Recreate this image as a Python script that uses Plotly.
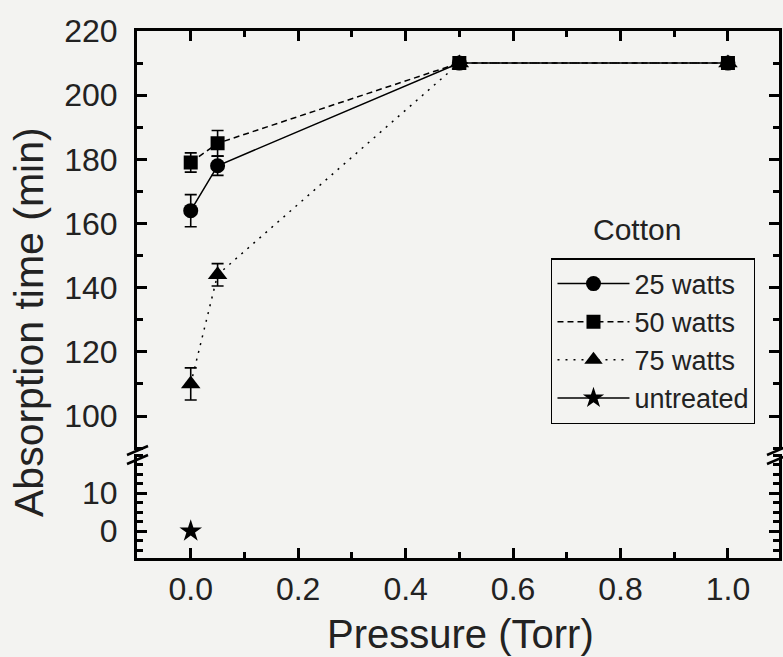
import plotly.graph_objects as go

# ---- data ----
pressure = [0.0, 0.05, 0.5, 1.0]
w25 = [164, 178, 210, 210]
w25_err = [5, 3, 0, 0]
w50 = [179, 185, 210, 210]
w50_err = [3, 4, 0, 0]
w75 = [110, 144, 210, 210]
w75_err = [5, 3.5, 0, 0]
untreated_x = [0.0]
untreated_y = [0]

x_ticks = [0.0, 0.2, 0.4, 0.6, 0.8, 1.0]
x_ticklabels = ["0.0", "0.2", "0.4", "0.6", "0.8", "1.0"]
upper_ticks = [100, 120, 140, 160, 180, 200, 220]
lower_ticks = [0, 10]

FONT = "Liberation Sans, Arial, sans-serif"
BG = "#f3f3f1"

fig = go.Figure()

def err(vals):
    return dict(type="data", array=vals, visible=True, color="black", thickness=1.6, width=6)

fig.add_trace(go.Scatter(x=pressure, y=w50, error_y=err(w50_err), mode="lines+markers",
                         name="50 watts", legendrank=2, xaxis="x2", yaxis="y2",
                         line=dict(color="black", width=1.5, dash="6px,4px"),
                         marker=dict(symbol="square", size=14, color="black")))
fig.add_trace(go.Scatter(x=pressure, y=w75, error_y=err(w75_err), mode="lines+markers",
                         name="75 watts", legendrank=3, xaxis="x2", yaxis="y2",
                         line=dict(color="black", width=1.5, dash="2px,6px"),
                         marker=dict(symbol="triangle-up", size=17, color="black")))
fig.add_trace(go.Scatter(x=pressure, y=w25, error_y=err(w25_err), mode="lines+markers",
                         name="25 watts", legendrank=1, xaxis="x2", yaxis="y2",
                         line=dict(color="black", width=1.5),
                         marker=dict(symbol="circle", size=15, color="black")))
fig.add_trace(go.Scatter(x=untreated_x, y=untreated_y, mode="lines+markers",
                         name="untreated", legendrank=4, xaxis="x", yaxis="y",
                         line=dict(color="black", width=1.5),
                         marker=dict(symbol="star", size=17, color="black")))

axis_common = dict(showline=True, linecolor="black", linewidth=3, ticks="inside",
                   tickcolor="black", tickwidth=3, ticklen=10, showgrid=False, zeroline=False,
                   automargin=False,
                   tickfont=dict(family=FONT, size=32, color="#222"))

L, R, T, B = 137, 4, 31, 99
W, H = 783, 657
pw, ph = W - L - R, H - T - B

fig.update_layout(
    width=W, height=H,
    margin=dict(l=L, r=R, t=T, b=B, autoexpand=False),
    paper_bgcolor=BG, plot_bgcolor=BG,
    font=dict(family=FONT, color="#222"),
    showlegend=True,
    legend=dict(x=0.645, y=0.569, xanchor="left", yanchor="top",
                bgcolor=BG, bordercolor="black", borderwidth=1.4,
                font=dict(family=FONT, size=27, color="#222"),
                itemwidth=72, tracegroupgap=0),
    xaxis=dict(**axis_common, range=[-0.1, 1.095], anchor="y", domain=[0, 1],
               tickvals=x_ticks, ticktext=x_ticklabels, ticklabelstandoff=1,
               minor=dict(dtick=0.1, ticks="inside", ticklen=6, tickwidth=3, tickcolor="black")),
    xaxis2=dict(**axis_common, range=[-0.1, 1.095], anchor="y2", side="top", matches="x",
                showticklabels=False, tickvals=x_ticks,
                minor=dict(dtick=0.1, ticks="inside", ticklen=6, tickwidth=3, tickcolor="black")),
    yaxis=dict(**axis_common, domain=[0, 0.198], range=[-7.1, 20.4], tickvals=lower_ticks,
               mirror="ticks", ticklabelstandoff=10,
               minor=dict(tick0=0, dtick=2.5, ticks="inside", ticklen=6, tickwidth=3, tickcolor="black")),
    yaxis2=dict(**axis_common, domain=[0.204, 1], range=[89.25, 220], tickvals=upper_ticks,
                mirror="ticks", ticklabelstandoff=10,
                minor=dict(tick0=0, dtick=10, ticks="inside", ticklen=6, tickwidth=3, tickcolor="black")),
)

def px(xp):
    return (xp - L) / pw

def py(yp):
    return (H - B - yp) / ph

# axis break marks
for xc in (L, W - R - 2):
    for dy in (0, 9):
        fig.add_shape(type="line", xref="paper", yref="paper",
                      x0=px(xc - 10), y0=py(455 + dy), x1=px(xc + 11), y1=py(446 + dy),
                      line=dict(color="black", width=2.5))

fig.add_annotation(text="Cotton", xref="paper", yref="paper", x=px(637), y=py(229),
                   xanchor="center", yanchor="middle",
                   showarrow=False, font=dict(family=FONT, size=30, color="#222"))
fig.add_annotation(text="Absorption time (min)", xref="paper", yref="paper",
                   x=px(29), y=py(322), xanchor="center", yanchor="middle",
                   textangle=-90, showarrow=False,
                   font=dict(family=FONT, size=41, color="#222"))
fig.add_annotation(text="Pressure (Torr)", xref="paper", yref="paper",
                   x=px(460), y=py(634), xanchor="center", yanchor="middle",
                   showarrow=False,
                   font=dict(family=FONT, size=40, color="#222"))

fig.write_html("out.html", config={"displayModeBar": False},
               post_script="document.body.style.margin='0';document.body.style.overflow='hidden';")
